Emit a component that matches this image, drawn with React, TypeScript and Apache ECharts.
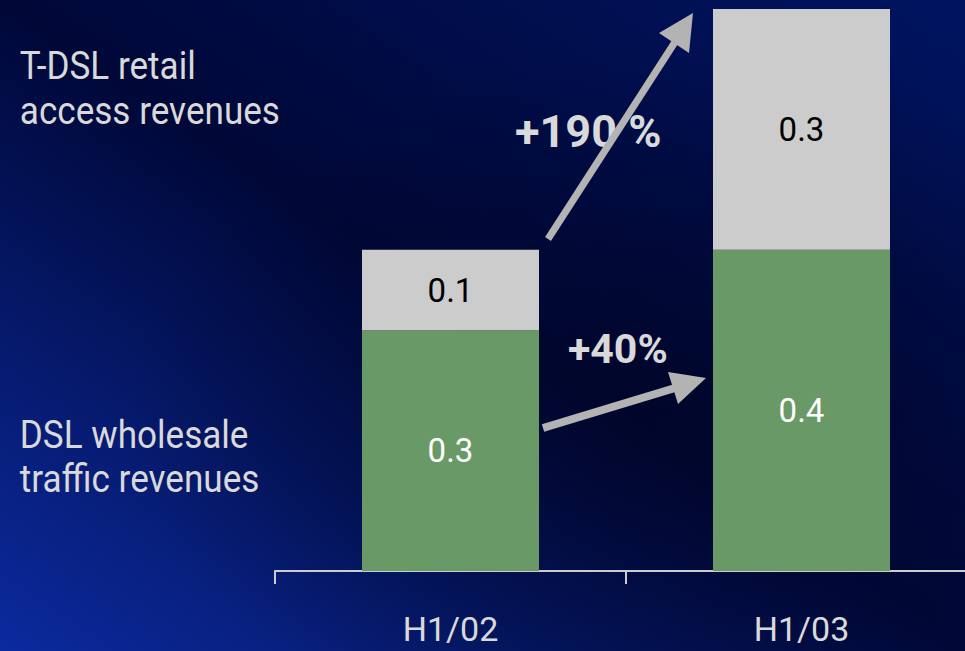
import React, { useEffect, useRef } from "react";
import * as echarts from "echarts";

const categories = ["H1/02", "H1/03"];
const wholesaleValues = [0.3, 0.4];
const retailValues = [0.1, 0.3];
const legendRetail = ["T-DSL retail", "access revenues"];
const legendWholesale = ["DSL wholesale", "traffic revenues"];
const growthRetail = "+190 %";
const growthWholesale = "+40%";

const SANS = "Roboto, 'Liberation Sans', sans-serif";
const TEXT = "#d9d9d9";
const ARROW = "#b3b3b3";

export default function App() {
  const ref = useRef<HTMLDivElement>(null);
  useEffect(() => {
    if (!ref.current) return;
    const chart = echarts.init(ref.current, undefined, { renderer: "svg" });
    const legendText = (text: string, y: number) => ({
      type: "text",
      x: 18,
      y,
      scaleX: 0.9,
      originX: 18,
      style: { text, fill: TEXT, font: `39px ${SANS}`, verticalAlign: "middle" },
    });
    const option: any = {
      animation: false,
      backgroundColor: new echarts.graphic.LinearGradient(0, 1, 1, 0, [
        { offset: 0, color: "#0b2a9e" },
        { offset: 0.5, color: "#000838" },
        { offset: 1, color: "#001461" },
      ]),
      grid: { left: 275, width: 702, top: 9, bottom: 80, containLabel: false },
      xAxis: {
        type: "category",
        data: categories,
        axisLine: { show: true, lineStyle: { color: "#cccccc", width: 2 } },
        axisTick: { show: true, length: 13, lineStyle: { color: "#cccccc", width: 2 } },
        axisLabel: {
          color: TEXT,
          fontFamily: SANS,
          fontSize: 34,
          margin: 41,
        },
      },
      yAxis: {
        type: "value",
        min: 0,
        max: 0.7,
        show: false,
        splitLine: { show: false },
      },
      series: [
        {
          name: "DSL wholesale traffic revenues",
          type: "bar",
          stack: "total",
          data: wholesaleValues,
          barWidth: 177,
          itemStyle: { color: "#699966" },
          label: {
            show: true,
            position: "inside",
            color: "#ffffff",
            fontFamily: SANS,
            fontSize: 33,
            formatter: (p: any) => p.value.toFixed(1),
          },
        },
        {
          name: "T-DSL retail access revenues",
          type: "bar",
          stack: "total",
          data: retailValues,
          barWidth: 177,
          itemStyle: { color: "#cccccc" },
          label: {
            show: true,
            position: "inside",
            color: "#000000",
            fontFamily: SANS,
            fontSize: 33,
            formatter: (p: any) => p.value.toFixed(1),
          },
        },
      ],
      graphic: [
        {
          type: "rect",
          z: -5,
          silent: true,
          shape: { x: 0, y: 0, width: 977, height: 651 },
          style: {
            fill: new echarts.graphic.RadialGradient(0.68, 0.62, 0.55, [
              { offset: 0, color: "rgba(0,3,30,0.55)" },
              { offset: 1, color: "rgba(0,3,30,0)" },
            ]),
          },
        },
        legendText(legendRetail[0], 66),
        legendText(legendRetail[1], 111),
        legendText(legendWholesale[0], 435),
        legendText(legendWholesale[1], 479),
        {
          type: "line",
          z: 10,
          shape: { x1: 548, y1: 239, x2: 675, y2: 42 },
          style: { stroke: ARROW, lineWidth: 7 },
        },
        {
          type: "polygon",
          z: 10,
          shape: { points: [[693, 13], [659, 33], [689, 53]] },
          style: { fill: ARROW },
        },
        {
          type: "line",
          z: 10,
          shape: { x1: 543, y1: 428, x2: 675, y2: 388 },
          style: { stroke: ARROW, lineWidth: 8 },
        },
        {
          type: "polygon",
          z: 10,
          shape: { points: [[706, 378], [668, 372], [678, 404]] },
          style: { fill: ARROW },
        },
        {
          type: "text",
          z: 9,
          x: 515,
          y: 131,
          style: {
            text: growthRetail,
            fill: TEXT,
            font: `bold 45px ${SANS}`,
            verticalAlign: "middle",
          },
        },
        {
          type: "text",
          z: 9,
          x: 568,
          y: 349,
          style: {
            text: growthWholesale,
            fill: TEXT,
            font: `bold 41px ${SANS}`,
            verticalAlign: "middle",
          },
        },
      ],
    };
    chart.setOption(option);
    return () => chart.dispose();
  }, []);
  return (
    <div
      ref={ref}
      style={{ position: "fixed", left: 0, top: 0, width: 977, height: 651 }}
    />
  );
}
